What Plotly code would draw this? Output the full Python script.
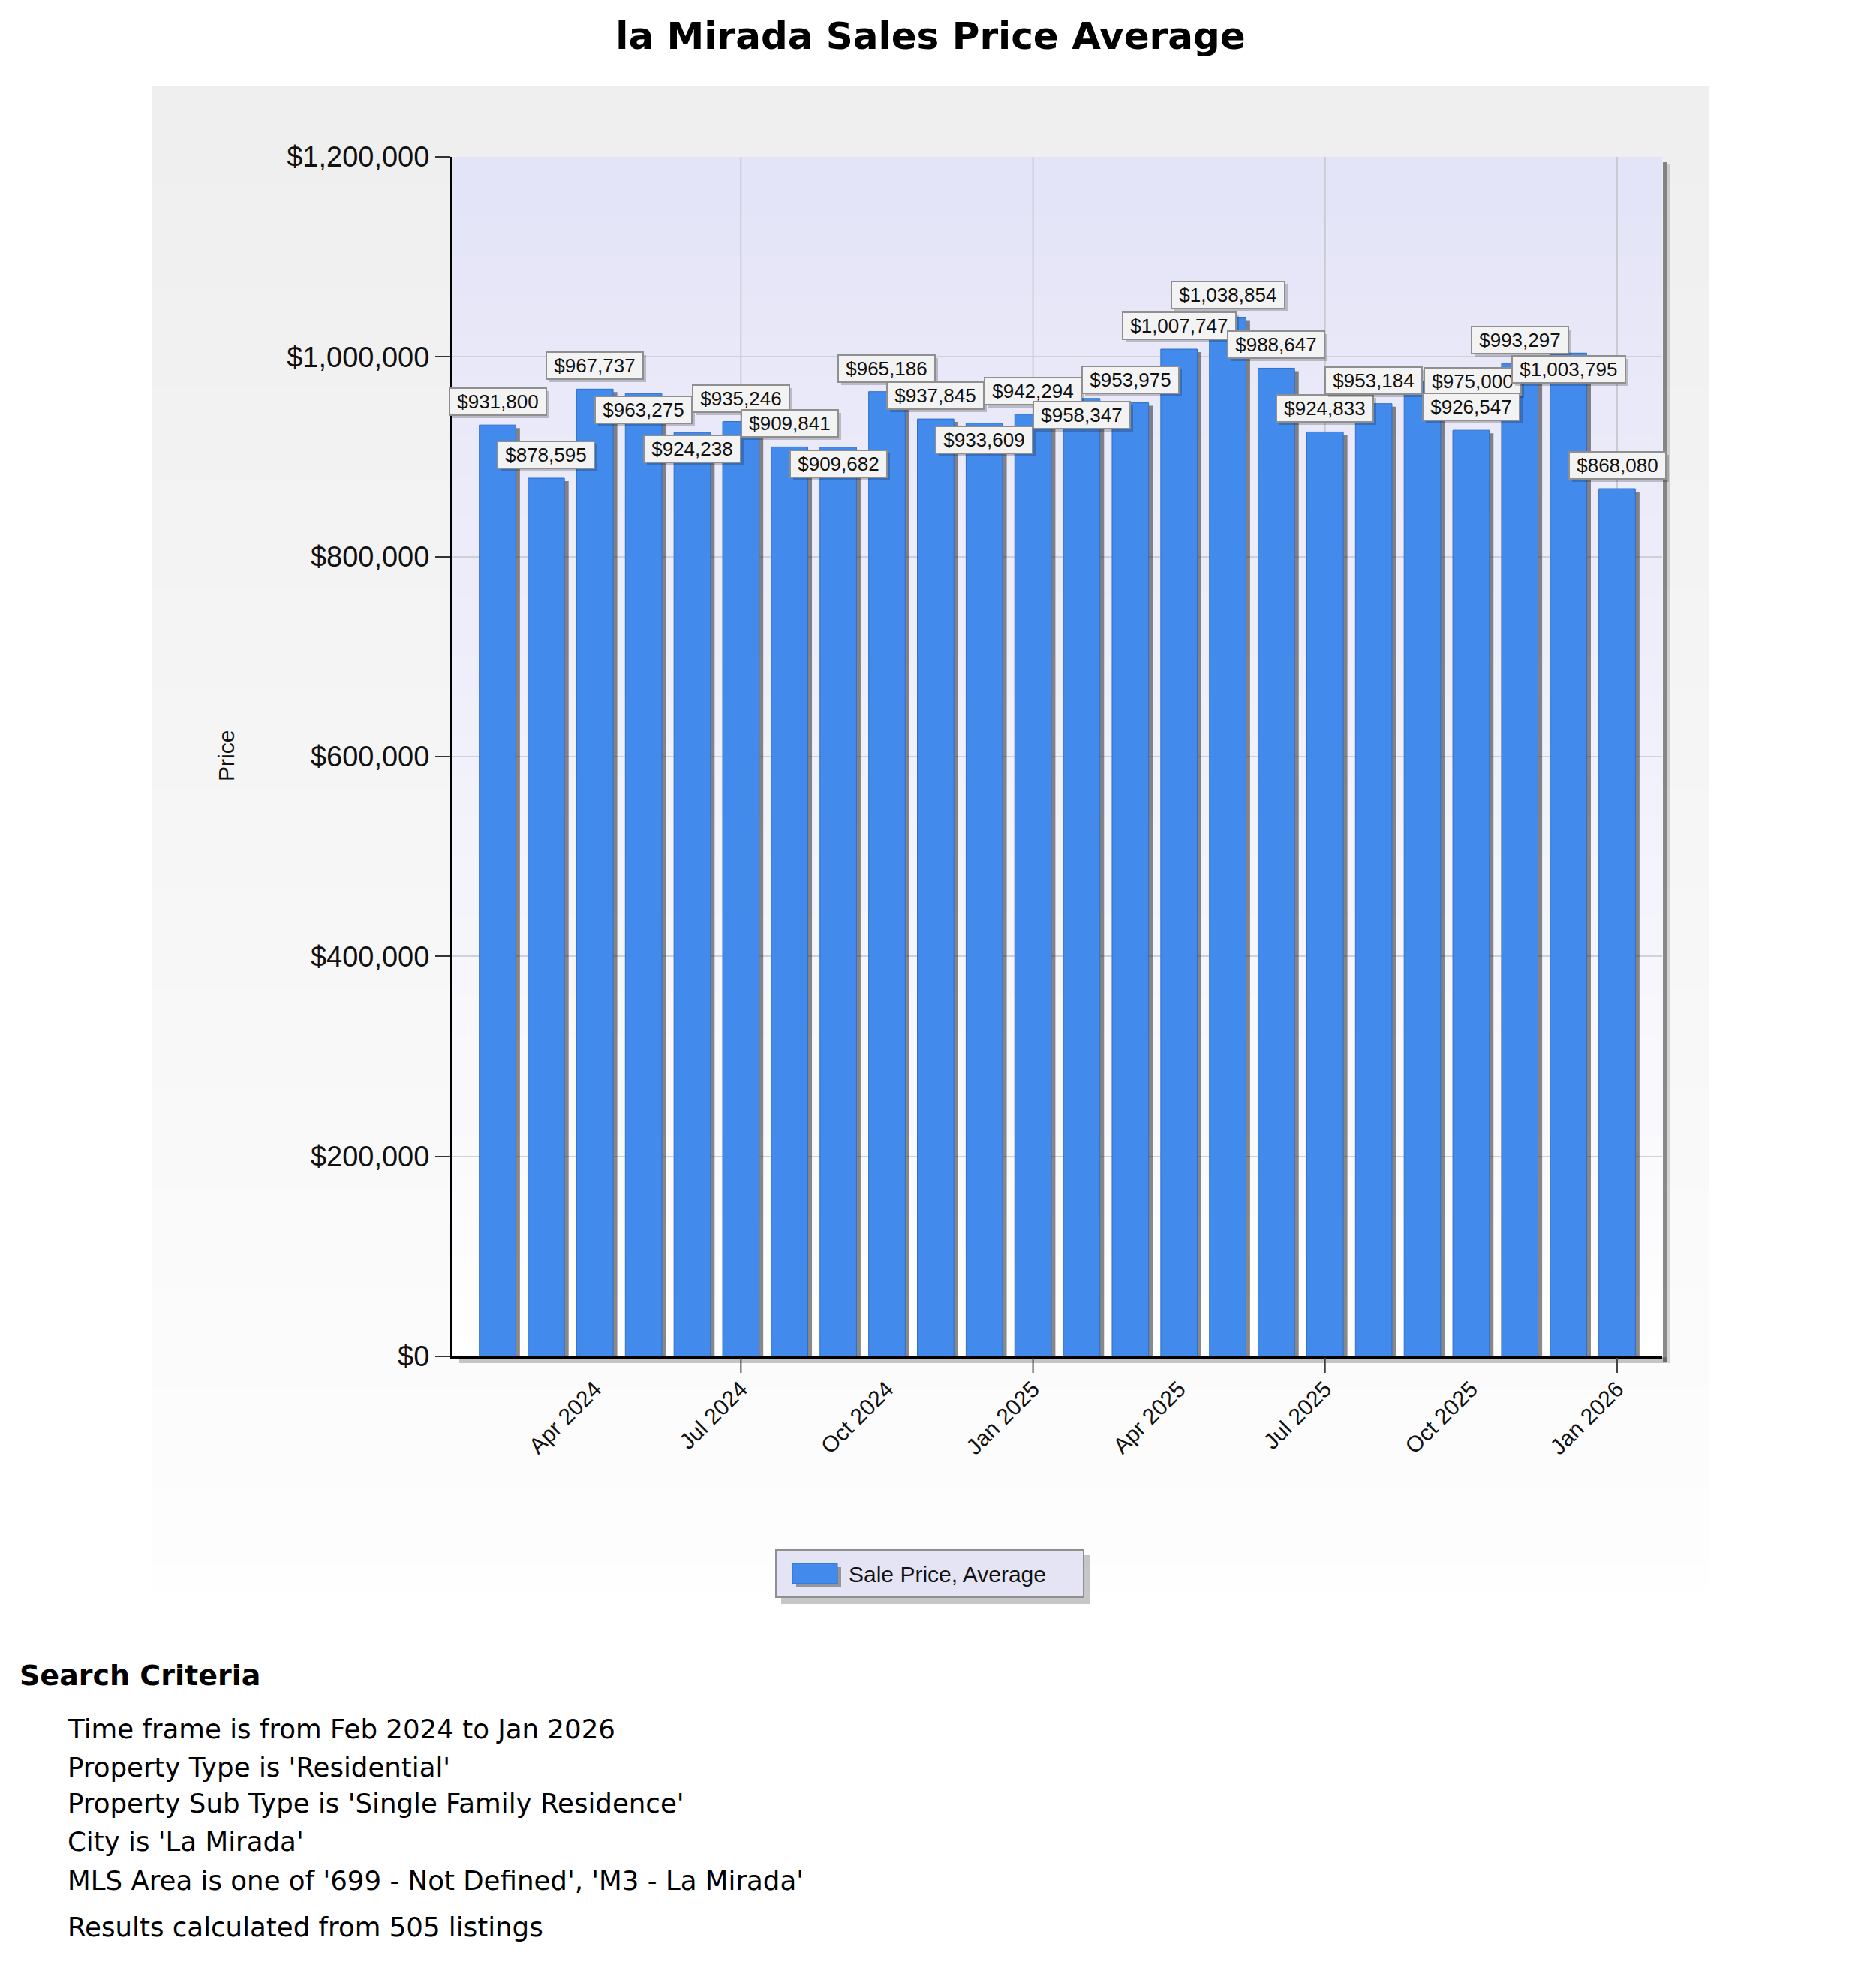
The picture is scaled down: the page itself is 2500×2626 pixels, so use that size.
import plotly.graph_objects as go

# ---------------- data ----------------
months = ["Feb 2024", "Mar 2024", "Apr 2024", "May 2024", "Jun 2024", "Jul 2024",
          "Aug 2024", "Sep 2024", "Oct 2024", "Nov 2024", "Dec 2024", "Jan 2025",
          "Feb 2025", "Mar 2025", "Apr 2025", "May 2025", "Jun 2025", "Jul 2025",
          "Aug 2025", "Sep 2025", "Oct 2025", "Nov 2025", "Dec 2025", "Jan 2026"]
avg_price = [931800, 878595, 967737, 963275, 924238, 935246,
             909841, 909682, 965186, 937845, 933609, 942294,
             958347, 953975, 1007747, 1038854, 988647, 924833,
             953184, 975000, 926547, 993297, 1003795, 868080]
x_tick_labels = ["Apr 2024", "Jul 2024", "Oct 2024", "Jan 2025",
                 "Apr 2025", "Jul 2025", "Oct 2025", "Jan 2026"]
grid_months = ["Jul 2024", "Jan 2025", "Jul 2025", "Jan 2026"]
y_tick_values = [0, 200000, 400000, 600000, 800000, 1000000, 1200000]
series_name = "Sale Price, Average"
chart_title = "la Mirada Sales Price Average"
y_title = "Price"
criteria_heading = "Search Criteria"
criteria_lines = [
    "Time frame is from Feb 2024 to Jan 2026",
    "Property Type is 'Residential'",
    "Property Sub Type is 'Single Family Residence'",
    "City is 'La Mirada'",
    "MLS Area is one of '699 - Not Defined', 'M3 - La Mirada'",
    "Results calculated from 505 listings",
]

# label placement (style only)
label_placement = ["up", "up", "up", "down", "down", "up", "up", "down", "up", "up",
                   "down", "up", "down", "up", "up", "up", "up", "up", "up", "right",
                   "up", "up", "down", "up"]
place_shift = {"up": (0, 31), "down": (0, -22), "right": (67, 1)}

# ---------------- geometry ----------------
W, H = 2500, 2626
PL, PR, PT, PB = 603, 2215, 209, 1807


def px_x(px):
    return (px - PL) / (PR - PL)


def px_y(py):
    return (PB - py) / (PB - PT)


ARIAL = "Liberation Sans, Arial, sans-serif"
VERDANA = "Verdana, DejaVu Sans, sans-serif"
BAR_COLOR = "#428AEC"
BAR_LINE = "#2F6FC8"

idx = list(range(len(months)))

fig = go.Figure()

# bar shadow
fig.add_trace(go.Bar(
    x=idx, y=[v - 3000 for v in avg_price], width=0.75, offset=-0.375 + 0.085,
    marker=dict(color="rgba(40,40,40,0.55)", line=dict(width=0)),
    showlegend=False, hoverinfo="skip"))
# bars
fig.add_trace(go.Bar(
    x=idx, y=avg_price, width=0.75, offset=-0.375, name=series_name,
    marker=dict(color=BAR_COLOR, line=dict(color=BAR_LINE, width=1)),
    showlegend=False,
    customdata=months,
    hovertemplate="%{customdata}<br>$%{y:,}<extra></extra>"))

shapes = []
# outer panel gradient
N = 60
top, bot = 114, 2118
for k in range(N):
    y0 = top + (bot - top) * k / N
    y1 = top + (bot - top) * (k + 1) / N + 1
    t = k / (N - 1)
    c = int(239 + (254 - 239) * t)
    shapes.append(dict(type="rect", xref="paper", yref="paper",
                       x0=px_x(203), x1=px_x(2278), y0=px_y(y1), y1=px_y(y0),
                       fillcolor=f"rgb({c},{c},{c})", line=dict(width=0), layer="below"))
# plot area gradient
N2 = 60
for k in range(N2):
    y0 = PT + (PB - PT) * k / N2
    y1 = PT + (PB - PT) * (k + 1) / N2 + 1
    t = k / (N2 - 1)
    r = int(228 + (255 - 228) * t)
    b = int(248 + (255 - 248) * t)
    shapes.append(dict(type="rect", xref="paper", yref="paper",
                       x0=0, x1=1, y0=max(px_y(y1), 0), y1=px_y(y0),
                       fillcolor=f"rgb({r},{r},{b})", line=dict(width=0), layer="below"))
# plot area shadow (right and bottom)
shapes.append(dict(type="rect", xref="paper", yref="paper",
                   x0=px_x(2216), x1=px_x(2221), y0=px_y(1814), y1=px_y(216),
                   fillcolor="rgba(0,0,0,0.45)", line=dict(width=0), layer="below"))
shapes.append(dict(type="rect", xref="paper", yref="paper",
                   x0=px_x(2221), x1=px_x(2225), y0=px_y(1816), y1=px_y(218),
                   fillcolor="rgba(0,0,0,0.15)", line=dict(width=0), layer="below"))
shapes.append(dict(type="rect", xref="paper", yref="paper",
                   x0=px_x(612), x1=px_x(2221), y0=px_y(1816), y1=px_y(1808),
                   fillcolor="rgba(0,0,0,0.22)", line=dict(width=0), layer="below"))
# vertical grid lines & tick marks every six months
for m in grid_months:
    gx = months.index(m)
    shapes.append(dict(type="line", xref="x", yref="paper", x0=gx, x1=gx, y0=0, y1=1,
                       line=dict(color="#CACAD3", width=2), layer="below"))
    shapes.append(dict(type="line", xref="x", yref="paper", x0=gx, x1=gx,
                       y0=px_y(1809), y1=px_y(1829),
                       line=dict(color="#444444", width=2), layer="above"))

# custom legend
shapes.append(dict(type="rect", xref="paper", yref="paper",
                   x0=px_x(1041), x1=px_x(1452), y0=px_y(2137), y1=px_y(2072),
                   fillcolor="rgba(0,0,0,0.22)", line=dict(width=0)))
shapes.append(dict(type="rect", xref="paper", yref="paper",
                   x0=px_x(1034), x1=px_x(1444), y0=px_y(2128), y1=px_y(2065),
                   fillcolor="#E4E4F4", line=dict(color="#8F8F8F", width=2)))
shapes.append(dict(type="rect", xref="paper", yref="paper",
                   x0=px_x(1061), x1=px_x(1121), y0=px_y(2115), y1=px_y(2088),
                   fillcolor="rgba(0,0,0,0.35)", line=dict(width=0)))
shapes.append(dict(type="rect", xref="paper", yref="paper",
                   x0=px_x(1056), x1=px_x(1116), y0=px_y(2110), y1=px_y(2083),
                   fillcolor=BAR_COLOR, line=dict(color=BAR_LINE, width=1)))

annotations = []
# value labels
for i, (v, pos) in enumerate(zip(avg_price, label_placement)):
    dx, dy = place_shift[pos]
    txt = "\u00a0$" + f"{v:,}" + "\u00a0"
    annotations.append(dict(
        x=idx[i], y=v, xref="x", yref="y", text=txt, showarrow=False,
        xanchor="center", yanchor="middle", xshift=dx + 4, yshift=dy - 4,
        font=dict(family=ARIAL, size=26, color="rgba(0,0,0,0)"),
        bgcolor="rgba(0,0,0,0.2)", bordercolor="rgba(0,0,0,0)", borderwidth=2, borderpad=2))
    annotations.append(dict(
        x=idx[i], y=v, xref="x", yref="y", text=txt, showarrow=False,
        xanchor="center", yanchor="middle", xshift=dx, yshift=dy,
        font=dict(family=ARIAL, size=26, color="#111111"),
        bgcolor="#F3F3F3", bordercolor="#8F8F8F", borderwidth=2, borderpad=2))

# y-axis title
annotations.append(dict(x=px_x(301), y=px_y(1007), xref="paper", yref="paper",
                        text=y_title, textangle=-90, showarrow=False,
                        xanchor="center", yanchor="middle",
                        font=dict(family=ARIAL, size=30, color="#111111")))
# legend text
annotations.append(dict(x=px_x(1129), y=px_y(2097), xref="paper", yref="paper",
                        text=series_name, showarrow=False,
                        xanchor="left", yanchor="middle",
                        font=dict(family=ARIAL, size=30, color="#111111")))
# search criteria
annotations.append(dict(x=px_x(24), y=px_y(2232), xref="paper", yref="paper",
                        text="<b>" + criteria_heading + "</b>", showarrow=False,
                        xanchor="left", yanchor="middle",
                        font=dict(family=VERDANA, size=38, color="#000000")))
line_y = [2303, 2354, 2402, 2453, 2505, 2567]
for txt, ly in zip(criteria_lines, line_y):
    annotations.append(dict(x=px_x(88), y=px_y(ly), xref="paper", yref="paper",
                            text=txt, showarrow=False,
                            xanchor="left", yanchor="middle",
                            font=dict(family=VERDANA, size=35.6, color="#000000")))

fig.update_layout(
    width=W, height=H,
    margin=dict(l=PL, r=W - PR, t=PT, b=H - PB, pad=0),
    paper_bgcolor="white", plot_bgcolor="rgba(0,0,0,0)",
    barmode="overlay",
    showlegend=False,
    title=dict(text="<b>" + chart_title + "</b>", x=1240 / W, xanchor="center",
               xref="container", yref="container", y=1 - 47 / H, yanchor="middle",
               font=dict(family=VERDANA, size=50, color="#000000")),
    xaxis=dict(range=[-0.925, len(months) - 1 + 0.925],
               tickmode="array",
               tickvals=[months.index(m) for m in x_tick_labels],
               ticktext=x_tick_labels, tickangle=-45, ticks="",
               ticklabelstandoff=11,
               tickfont=dict(family=ARIAL, size=30, color="#111111"),
               showgrid=False, zeroline=False,
               showline=True, linecolor="#000000", linewidth=3),
    yaxis=dict(range=[0, 1200000], tickmode="array", tickvals=y_tick_values,
               ticktext=["$" + f"{v:,}" for v in y_tick_values],
               ticks="outside", ticklen=20, tickwidth=2, tickcolor="#333333",
               ticklabelstandoff=0,
               tickfont=dict(family=ARIAL, size=38, color="#111111"),
               showgrid=True, gridcolor="#D0D0D8", gridwidth=2, zeroline=False,
               showline=True, linecolor="#000000", linewidth=3),
    shapes=shapes,
    annotations=annotations,
)

fig.write_html("out.html", config={"displayModeBar": False},
               post_script="document.body.style.margin='0';document.body.style.padding='0';")
